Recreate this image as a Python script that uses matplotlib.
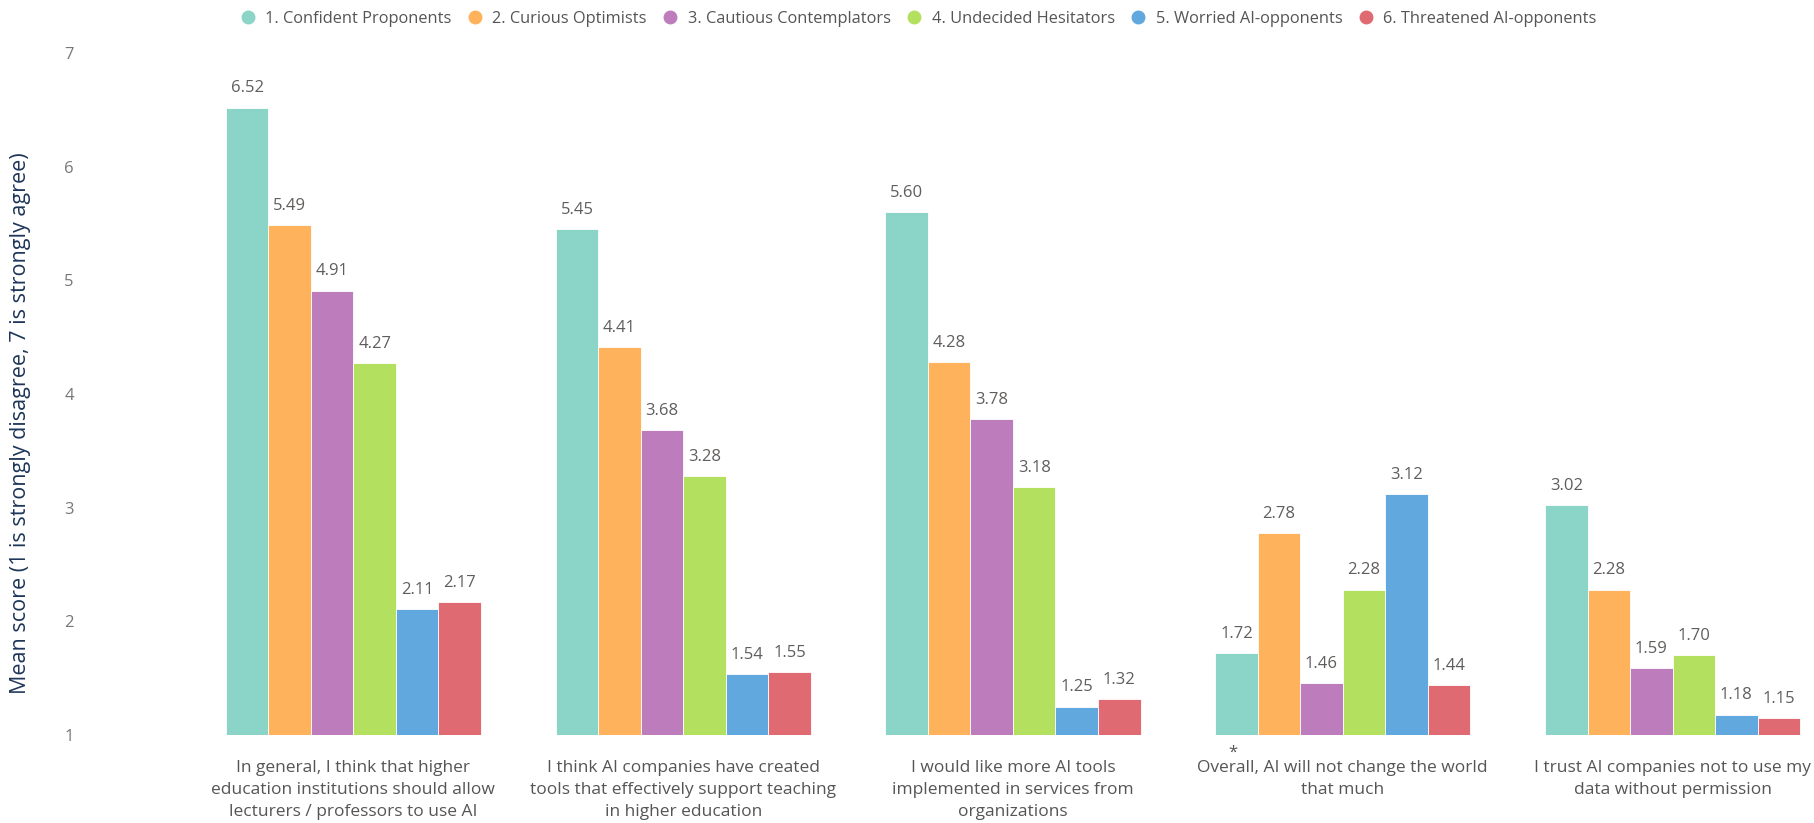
import matplotlib
matplotlib.use("Agg")
import matplotlib.pyplot as plt
from matplotlib.lines import Line2D
import numpy as np

plt.rcParams['font.family'] = ['Open Sans', 'DejaVu Sans']

statements = [
    "In general, I think that higher\neducation institutions should allow\nlecturers / professors to use AI",
    "I think AI companies have created\ntools that effectively support teaching\nin higher education",
    "I would like more AI tools\nimplemented in services from\norganizations",
    "Overall, AI will not change the world\nthat much",
    "I trust AI companies not to use my\ndata without permission",
]
segments = [
    "1. Confident Proponents",
    "2. Curious Optimists",
    "3. Cautious Contemplators",
    "4. Undecided Hesitators",
    "5. Worried AI-opponents",
    "6. Threatened AI-opponents",
]
colors = ["#8BD4C8", "#FEB25B", "#BD7DBD", "#B4E060", "#61A8DE", "#E06A72"]

confident = [6.52, 5.45, 5.60, 1.72, 3.02]
curious = [5.49, 4.41, 4.28, 2.78, 2.28]
cautious = [4.91, 3.68, 3.78, 1.46, 1.59]
undecided = [4.27, 3.28, 3.18, 2.28, 1.70]
worried = [2.11, 1.54, 1.25, 3.12, 1.18]
threatened = [2.17, 1.55, 1.32, 1.44, 1.15]
scores = [confident, curious, cautious, undecided, worried, threatened]

W, H = 1815, 823
fig = plt.figure(figsize=(W / 100, H / 100), dpi=100)
ax = fig.add_axes([85 / W, (H - 735) / H, (W - 85) / W, (735 - 53) / H])

x = np.arange(len(statements))
bw = 0.1289
for k, (vals, col) in enumerate(zip(scores, colors)):
    pos = x + (k - 2.5) * bw
    vals = np.array(vals)
    ax.bar(pos, vals - 1, bottom=1, width=bw, color=col,
           edgecolor="white", linewidth=0.6)
    for px, v in zip(pos, vals):
        ax.annotate(f"{v:.2f}", (px, v), xytext=(0, 8), textcoords="offset points",
                    ha="center", va="bottom", fontsize=12, color="#605E5C")

ax.set_ylim(1, 7)
ax.set_xlim(-0.814, 4.432)
ax.set_yticks(range(1, 8))
ax.tick_params(axis="y", length=0, pad=8, labelsize=12, labelcolor="#777777")
ax.set_xticks(x)
ax.set_xticklabels(statements, fontsize=12.5, color="#555555", linespacing=1.5)
ax.tick_params(axis="x", length=0, pad=18)
for s in ax.spines.values():
    s.set_visible(False)

# footnote marker on the fourth statement
ax.annotate("*", (3, 1), xytext=(-79, -7), textcoords="offset points",
            ha="center", va="top", fontsize=12, color="#555555")

fig.text(21 / W, 1 - 423 / H, "Mean score (1 is strongly disagree, 7 is strongly agree)",
         rotation=90, ha="center", va="center", fontsize=15.5, color="#1D3557")

handles = [Line2D([], [], marker="o", linestyle="", markersize=9, color=c) for c in colors]
fig.legend(handles, segments, loc="upper center", bbox_to_anchor=(914 / W, 1.005),
           ncol=6, frameon=False, fontsize=11.8, handletextpad=0.05, columnspacing=0.45,
           labelcolor="#555555")

fig.savefig("out.png", dpi=100)
